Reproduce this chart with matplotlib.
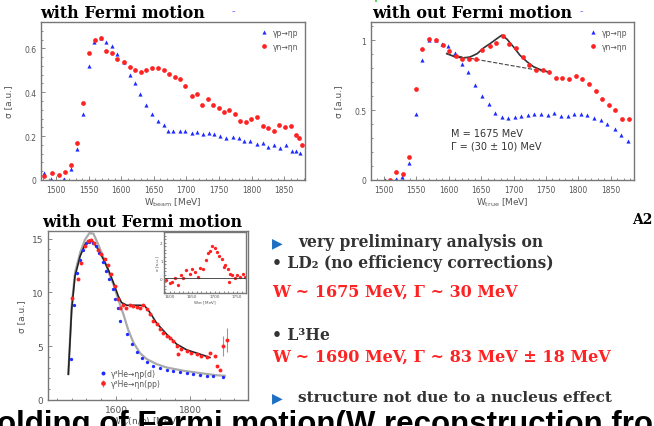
import matplotlib

matplotlib.use("Agg")
import matplotlib.pyplot as plt  # noqa: E402
from matplotlib.ticker import AutoMinorLocator  # noqa: E402

W_PX, H_PX = 654, 427
BLUE = "#1f2bff"
RED = "#ff2222"
GREY = "#555555"

# --- top left: with Fermi motion (W_beam) ---
fm_p_w = [1482, 1492, 1513, 1523, 1532, 1541, 1550, 1559, 1569, 1577, 1586, 1594, 1605,
          1613, 1621, 1629, 1638, 1647, 1656, 1665, 1672, 1680, 1690, 1698, 1708, 1716,
          1725, 1734, 1743, 1752, 1761, 1771, 1780, 1789, 1798, 1808, 1817, 1826, 1835,
          1844, 1853, 1862, 1868, 1874]
fm_p_sig = [0.03, 0.005, 0.005, 0.05, 0.14, 0.30, 0.52, 0.63, 0.645, 0.63, 0.61, 0.575, 0.54,
            0.48, 0.44, 0.39, 0.34, 0.30, 0.27, 0.25, 0.225, 0.225, 0.225, 0.225, 0.215, 0.22,
            0.21, 0.215, 0.21, 0.20, 0.19, 0.195, 0.19, 0.18, 0.177, 0.165, 0.167, 0.152, 0.16,
            0.146, 0.158, 0.13, 0.132, 0.125]
fm_n_w = [1482, 1494, 1505, 1514, 1523, 1532, 1541, 1550, 1560, 1569, 1577, 1586, 1594,
          1605, 1613, 1621, 1630, 1638, 1647, 1656, 1665, 1673, 1682, 1690, 1698, 1708,
          1716, 1724, 1733, 1741, 1750, 1758, 1766, 1774, 1783, 1791, 1799, 1808, 1817,
          1826, 1834, 1842, 1852, 1861, 1868, 1873, 1878]
fm_n_sig = [0.02, 0.03, 0.022, 0.035, 0.068, 0.17, 0.35, 0.58, 0.64, 0.645, 0.59, 0.58, 0.55,
            0.54, 0.515, 0.50, 0.49, 0.50, 0.51, 0.51, 0.50, 0.485, 0.47, 0.46, 0.43, 0.385,
            0.39, 0.34, 0.37, 0.34, 0.33, 0.31, 0.32, 0.30, 0.27, 0.265, 0.28, 0.285, 0.245,
            0.235, 0.225, 0.25, 0.24, 0.245, 0.205, 0.19, 0.16]

# --- top right: without Fermi motion (W_true) ---
nf_p_w = [1501, 1519, 1528, 1538, 1549, 1559, 1569, 1580, 1590, 1599, 1609, 1620, 1630,
          1640, 1651, 1662, 1672, 1682, 1692, 1702, 1712, 1722, 1732, 1743, 1754, 1763,
          1773, 1784, 1794, 1804, 1814, 1825, 1835, 1845, 1856, 1866, 1876]
nf_p_sig = [0.0, 0.007, 0.02, 0.12, 0.47, 0.86, 1.0, 1.0, 0.975, 0.957, 0.91, 0.83, 0.77,
            0.68, 0.60, 0.54, 0.48, 0.45, 0.44, 0.447, 0.457, 0.467, 0.47, 0.47, 0.467, 0.478,
            0.46, 0.46, 0.47, 0.47, 0.467, 0.443, 0.426, 0.40, 0.366, 0.32, 0.28]
nf_n_w = [1509, 1519, 1529, 1539, 1549, 1559, 1570, 1580, 1591, 1601, 1611, 1621, 1632,
          1642, 1652, 1663, 1673, 1683, 1693, 1704, 1714, 1724, 1734, 1745, 1755, 1765,
          1775, 1786, 1796, 1806, 1816, 1827, 1837, 1847, 1857, 1868, 1878]
nf_n_sig = [0.002, 0.055, 0.045, 0.165, 0.65, 0.94, 1.005, 1.0, 0.964, 0.923, 0.888, 0.868,
            0.868, 0.868, 0.93, 0.96, 0.98, 1.03, 0.976, 0.945, 0.88, 0.82, 0.79, 0.785,
            0.77, 0.73, 0.73, 0.72, 0.745, 0.72, 0.69, 0.636, 0.58, 0.533, 0.50, 0.433, 0.433]
# fitted resonance + linear background
fit_w = [1597, 1610, 1623, 1633, 1644, 1654, 1664, 1674, 1682, 1690, 1700, 1710, 1721,
         1731, 1741, 1756]
fit_sig = [0.904, 0.88, 0.873, 0.88, 0.904, 0.945, 0.976, 1.01, 1.036, 1.007, 0.952, 0.892,
           0.845, 0.81, 0.79, 0.77]
bkg_w = [1597, 1756]
bkg_sig = [0.90, 0.77]

# --- bottom: 3He target ---
he_p_w = [1478, 1487, 1494, 1503, 1512, 1519, 1528, 1537, 1546, 1555, 1564, 1573, 1582,
          1591, 1597, 1604, 1611, 1629, 1642, 1656, 1669, 1683, 1700, 1719, 1737, 1754,
          1773, 1791, 1808, 1827, 1845, 1862, 1889]
he_p_sig = [3.8, 8.8, 11.76, 12.96, 13.98, 14.6, 14.66, 14.6, 14.3, 13.67, 12.8, 11.97, 11.2,
            10.34, 9.35, 8.58, 7.34, 6.11, 5.19, 4.44, 3.89, 3.52, 3.15, 2.96, 2.8, 2.69,
            2.59, 2.5, 2.41, 2.31, 2.25, 2.22, 2.16]
he_n_w = [1481, 1496, 1505, 1515, 1524, 1533, 1541, 1550, 1559, 1569, 1578, 1587, 1596,
          1604, 1611, 1618, 1627, 1638, 1647, 1656, 1665, 1674, 1683, 1692, 1701, 1710,
          1719, 1728, 1737, 1746, 1755, 1764, 1767, 1777, 1791, 1804, 1818, 1831, 1845,
          1854, 1867, 1872, 1881, 1890, 1899]
he_n_sig = [9.5, 11.2, 12.75, 14.29, 14.75, 14.85, 14.6, 13.98, 13.6, 13.12, 12.5, 11.67,
            10.58, 9.35, 8.58, 8.8, 8.58, 8.8, 8.73, 8.67, 8.58, 8.8, 8.43, 7.96, 7.34, 7.04,
            6.57, 6.27, 5.96, 5.8, 5.49, 5.03, 4.3, 4.72, 4.57, 4.41, 4.26, 4.1, 3.95, 4.4,
            4.1, 3.18, 2.8, 5.0, 5.6]
he_n_err = [0.0] * 43 + [0.9, 1.1]
he_fit_n_w = [1471, 1480, 1489, 1503, 1516, 1528, 1539, 1552, 1566, 1579, 1593, 1606, 1615,
              1629, 1647, 1665, 1678, 1692, 1710, 1737, 1764, 1791, 1827, 1854]
he_fit_n_sig = [2.4, 8.4, 11.5, 13.36, 14.44, 14.85, 14.66, 13.98, 13.06, 12.13, 10.9, 9.66,
                9.05, 8.8, 8.8, 8.8, 8.73, 8.12, 7.13, 6.11, 5.19, 4.66, 4.26, 3.95]
he_fit_p_w = [1471, 1480, 1489, 1503, 1516, 1528, 1539, 1552, 1566, 1579, 1593, 1606, 1620,
              1633, 1647, 1665, 1683, 1710, 1737, 1782, 1827, 1872, 1894]
he_fit_p_sig = [2.4, 8.7, 11.8, 13.7, 14.9, 15.5, 15.45, 14.44, 13.2, 11.97, 10.74, 9.35,
                7.96, 6.51, 5.34, 4.35, 3.8, 3.33, 3.02, 2.72, 2.5, 2.3, 2.25]
# inset: background-subtracted eta-n yield
ins_w = [1592, 1600, 1605, 1611, 1619, 1625, 1630, 1637, 1645, 1650, 1656, 1662, 1667,
         1675, 1680, 1686, 1690, 1695, 1701, 1705, 1710, 1716, 1720, 1724, 1730, 1733,
         1735, 1739, 1745, 1750, 1757, 1763, 1767]
ins_sig = [-0.09, -0.27, -0.18, 0.0, -0.36, 0.18, 0.0, 0.45, 0.27, 0.55, 0.36, 0.09, 0.58,
           0.55, 1.04, 1.45, 1.55, 1.82, 1.73, 1.49, 1.27, 1.09, 0.64, 0.76, 0.55, -0.18,
           0.27, 0.18, 0.0, 0.18, 0.09, 0.22, 0.09]

fig = plt.figure(figsize=(W_PX / 100, H_PX / 100), dpi=100)
fig.patch.set_facecolor("white")


def px_axes(left, top, right, bottom):
    return fig.add_axes([left / W_PX, 1 - bottom / H_PX,
                         (right - left) / W_PX, (bottom - top) / H_PX])


def ftext(x, y, s, **kw):
    kw.setdefault("va", "center")
    return fig.text(x / W_PX, 1 - y / H_PX, s, **kw)


def style(ax, size=5.5):
    for sp in ax.spines.values():
        sp.set_color("#777777")
        sp.set_linewidth(1.0)
    ax.tick_params(which="both", direction="in", colors="#777777", labelcolor=GREY,
                   labelsize=size, length=3, width=0.6)
    ax.tick_params(which="minor", length=1.5)
    ax.xaxis.set_minor_locator(AutoMinorLocator(5))
    ax.yaxis.set_minor_locator(AutoMinorLocator(5))


serif = dict(family="DejaVu Serif", fontweight="bold")

# top left panel
ax1 = px_axes(41, 23, 305, 181)
ax1.plot(fm_p_w, fm_p_sig, "^", color=BLUE, ms=3, mew=0, label="γp→ηp")
ax1.plot(fm_n_w, fm_n_sig, "o", color=RED, ms=3.4, mew=0, label="γn→ηn")
ax1.set_xlim(1477, 1882)
ax1.set_ylim(0, 0.72)
ax1.set_xticks([1500, 1550, 1600, 1650, 1700, 1750, 1800, 1850])
ax1.set_yticks([0, 0.2, 0.4, 0.6], ["0", "0.2", "0.4", "0.6"])
ax1.set_xlabel(r"W$_{\rm beam}$ [MeV]", fontsize=6.5, color=GREY, labelpad=1)
ax1.set_ylabel("σ [a.u.]", fontsize=6.5, color=GREY, labelpad=8)
ax1.legend(loc="upper right", frameon=False, fontsize=5.5, handletextpad=0.2,
           labelcolor=GREY, borderaxespad=0.4, labelspacing=0.6)
style(ax1)
ftext(40, 14, "with Fermi motion", fontsize=11.5, ha="left", **serif)
ftext(232, 11, "–", fontsize=5, color=BLUE)

# top right panel
ax2 = px_axes(371, 23, 634, 181)
ax2.plot(nf_p_w, nf_p_sig, "^", color=BLUE, ms=3, mew=0, label="γp→ηp")
ax2.plot(nf_n_w, nf_n_sig, "o", color=RED, ms=3.4, mew=0, label="γn→ηn")
ax2.plot(fit_w, fit_sig, "-", color="#333333", lw=1.2, zorder=1)
ax2.plot(bkg_w, bkg_sig, "--", color="#444444", lw=0.8, zorder=1)
ax2.set_xlim(1480, 1886)
ax2.set_ylim(0, 1.13)
ax2.set_xticks([1500, 1550, 1600, 1650, 1700, 1750, 1800, 1850])
ax2.set_yticks([0, 0.5, 1], ["0", "0.5", "1"])
ax2.set_xlabel(r"W$_{\rm true}$ [MeV]", fontsize=6.5, color=GREY, labelpad=1)
ax2.set_ylabel("σ [a.u.]", fontsize=6.5, color=GREY, labelpad=8)
ax2.legend(loc="upper right", frameon=False, fontsize=5.5, handletextpad=0.2,
           labelcolor=GREY, borderaxespad=0.4, labelspacing=0.6)
ax2.text(0.305, 0.28, "M = 1675 MeV", transform=ax2.transAxes, fontsize=7, color="#333333")
ax2.text(0.305, 0.20, "Γ = (30 ± 10) MeV", transform=ax2.transAxes, fontsize=7,
         color="#333333")
style(ax2)
ftext(372, 14, "with out Fermi motion", fontsize=11.5, ha="left", **serif)
ftext(580, 11, "–", fontsize=5, color=BLUE)
ftext(374, 2, "•", fontsize=5, color="#33cc33")

# bottom left panel
ax3 = px_axes(48, 232, 248, 401)
ax3.plot(he_fit_p_w, he_fit_p_sig, "-", color="#aaaaaa", lw=1.6, zorder=1)
ax3.plot(he_fit_n_w, he_fit_n_sig, "-", color="#222222", lw=1.2, zorder=2)
ax3.plot(he_p_w, he_p_sig, "o", color=BLUE, ms=2.4, mew=0, label="γ³He→ηp(d)", zorder=3)
ax3.errorbar(he_n_w, he_n_sig, yerr=he_n_err, fmt="o", color=RED, ms=2.8, mew=0,
             ecolor="#999999", elinewidth=0.8, label="γ³He→ηn(pp)", zorder=3)
ax3.set_xlim(1416, 1957)
ax3.set_ylim(0, 15.7)
ax3.set_xticks([1600, 1800])
ax3.set_yticks([0, 5, 10, 15])
ax3.set_xlabel(r"W$_{\gamma}$(n/p) [MeV]", fontsize=6.5, color=GREY, labelpad=1)
ax3.set_ylabel("σ [a.u.]", fontsize=6.5, color=GREY, labelpad=4)
ax3.legend(loc="lower left", bbox_to_anchor=(0.2, 0.03), frameon=False, fontsize=5.5,
           handletextpad=0.1, labelcolor=GREY, labelspacing=0.2, markerscale=1.2)
style(ax3, size=6.5)
ftext(142, 223, "with out Fermi motion", fontsize=11.5, ha="center", **serif)

ins = px_axes(164, 233, 246, 294)
ins.plot(ins_w, ins_sig, "o", color=RED, ms=2.4, mew=0)
ins.axhline(0, color="#333333", lw=0.6)
ins.set_xlim(1587, 1770)
ins.set_ylim(-0.82, 2.6)
ins.set_xticks([1600, 1650, 1700, 1750])
ins.set_yticks([0, 1, 2])
ins.set_xlabel(r"W$_{\rm cm}$ [MeV]", fontsize=3, color=GREY, labelpad=0.5)
ins.set_ylabel("σ [a.u.]", fontsize=3, color=GREY, labelpad=0.5)
style(ins, size=3)
ins.tick_params(which="both", length=1.5, pad=1)

# text block on the right
ftext(652, 220, "A2", fontsize=10, ha="right", **serif)
body = dict(fontsize=11.2, ha="left", color="#333333", **serif)
hot = dict(fontsize=11.5, ha="left", color=RED, **serif)
ftext(272, 243, "▶", fontsize=10, color="#1e6fc4", ha="left")
ftext(298, 243, "very preliminary analysis on", **body)
ftext(272, 264, "• LD₂ (no efficiency corrections)", **body)
ftext(272, 292, "W ~ 1675 MeV, Γ ~ 30 MeV", **hot)
ftext(272, 336, "• L³He", **body)
ftext(272, 357, "W ~ 1690 MeV, Γ ~ 83 MeV ± 18 MeV", **hot)
ftext(272, 398, "▶", fontsize=10, color="#1e6fc4", ha="left")
ftext(298, 398, "structure not due to a nucleus effect", fontsize=11, ha="left",
      color="#333333", **serif)

# slide heading cut by the lower edge
ftext(-3, 433, "olding of Fermi motion(W reconstruction fro", fontsize=22.5,
      family="Liberation Sans", fontweight="bold", ha="left", va="baseline", color="black")

fig.savefig("out.png", dpi=100)
